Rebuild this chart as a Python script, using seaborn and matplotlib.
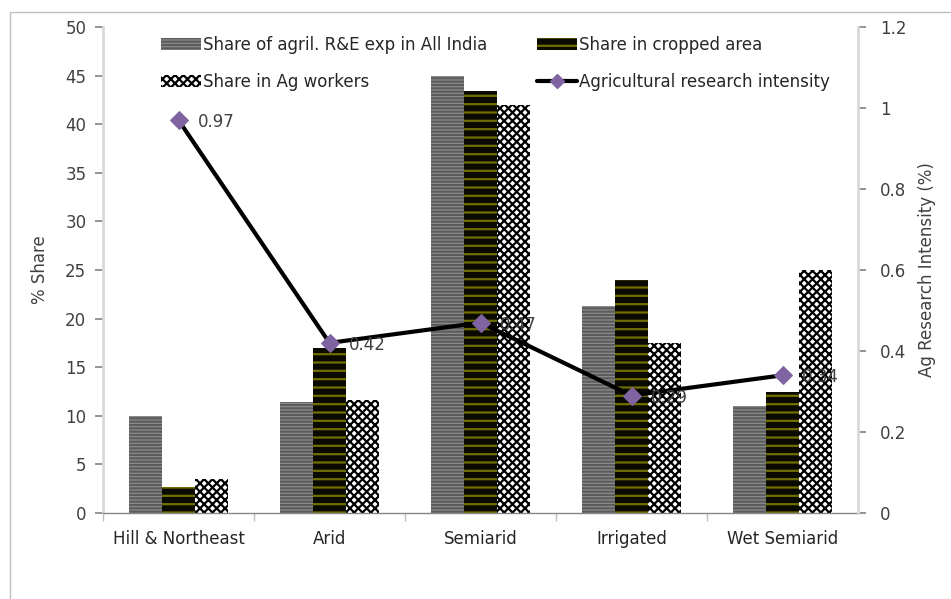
import numpy as np
import pandas as pd
import seaborn as sns
import matplotlib.pyplot as plt
from matplotlib.patches import Rectangle
from matplotlib.lines import Line2D
from matplotlib.ticker import FuncFormatter, MultipleLocator

regions = ['Hill & Northeast', 'Arid', 'Semiarid', 'Irrigated', 'Wet Semiarid']
share_exp = [10.0, 11.4, 45.0, 21.3, 11.0]
share_area = [2.7, 17.0, 43.4, 24.0, 12.4]
share_workers = [3.5, 11.6, 42.0, 17.5, 25.0]
intensity = [0.97, 0.42, 0.47, 0.29, 0.34]

series_names = ['Share of agril. R&E exp in All India', 'Share in cropped area', 'Share in Ag workers']
line_name = 'Agricultural research intensity'

df = pd.DataFrame({'Region': regions,
                   series_names[0]: share_exp,
                   series_names[1]: share_area,
                   series_names[2]: share_workers})
long = df.melt(id_vars='Region', var_name='Series', value_name='Share')

sns.set_theme(style='white')
plt.rcParams['font.family'] = ['DejaVu Sans']
plt.rcParams['hatch.linewidth'] = 1.6
text_col = '#404040'

fig = plt.figure(figsize=(9.51, 5.99), dpi=100)
ax = fig.add_axes([103 / 951, 1 - 513 / 599, 755 / 951, 486 / 599])

sns.barplot(data=long, x='Region', y='Share', hue='Series', order=regions,
            hue_order=series_names, width=0.66, ax=ax, legend=False)

styles = [
    dict(face='#8f8f8f', edge='#5c5c5c', hatch='-----'),
    dict(face='#0a0a00', edge='#6f6f00', hatch='- - '),
    dict(face='white', edge='black', hatch='xxxx'),
]
for cont, st in zip(ax.containers, styles):
    for bar in cont:
        bar.set_facecolor(st['face'])
        bar.set_edgecolor(st['edge'])
        bar.set_hatch(st['hatch'])
        bar.set_linewidth(0)

ax.set_xlim(-0.5, len(regions) - 0.5)
ax.set_ylim(0, 50)
ax.yaxis.set_major_locator(MultipleLocator(5))
ax.set_xlabel('')
ax.set_ylabel('% Share', fontsize=12, color=text_col, labelpad=12)
ax.tick_params(axis='y', left=True, length=6, color='#868686', labelsize=12,
               labelcolor=text_col, pad=6)
ax.tick_params(axis='x', length=0, labelsize=12, labelcolor='#262626', pad=12)
ax.set_xticks(np.arange(len(regions)) - 0.5, minor=True)
ax.tick_params(axis='x', which='minor', bottom=True, length=6, color='#bfbfbf')
for side in ['top', 'right']:
    ax.spines[side].set_visible(False)
ax.spines['left'].set_color('#d9d9d9')
ax.spines['left'].set_linewidth(2)
ax.spines['bottom'].set_color('#868686')
ax.spines['bottom'].set_linewidth(1)

ax2 = ax.twinx()
sns.lineplot(x=np.arange(len(regions)), y=intensity, ax=ax2, color='black',
             linewidth=3, marker='D', markersize=9, markerfacecolor='#8064a2',
             markeredgecolor='#8064a2', legend=False)
ax2.set_ylim(0, 1.2)
ax2.yaxis.set_major_locator(MultipleLocator(0.2))
ax2.yaxis.set_major_formatter(FuncFormatter(lambda v, p: f'{v:g}'))
ax2.set_ylabel('Ag Research Intensity (%)', fontsize=12, color=text_col, labelpad=8)
ax2.tick_params(axis='y', right=True, length=6, color='#868686', labelsize=12,
                labelcolor=text_col, pad=10)
for side in ['top', 'left', 'bottom']:
    ax2.spines[side].set_visible(False)
ax2.spines['right'].set_color('#d9d9d9')
ax2.spines['right'].set_linewidth(2)

for i, v in enumerate(intensity):
    ax2.annotate(f'{v:g}', (i, v), xytext=(14, -1.5), textcoords='offset points',
                 ha='left', va='center', fontsize=12, color=text_col)

handles = list(ax.containers[:3])
line_handle = Line2D([], [], color='black', linewidth=3, marker='D', markersize=7,
                     markerfacecolor='#8064a2', markeredgecolor='#8064a2')
order = [handles[0], handles[2], handles[1], line_handle]
labels = [series_names[0], series_names[2], series_names[1], line_name]
ax2.legend(order, labels, ncol=2, loc='upper center', bbox_to_anchor=(0.52, 1.013),
           frameon=False, fontsize=12, labelspacing=1.15, columnspacing=3.0,
           handlelength=2.4, handletextpad=0.1, labelcolor='#262626')

fig.patches.append(Rectangle((10 / 951, -0.1), 1.1, 1 - 12 / 599 + 0.1,
                             transform=fig.transFigure, fill=False,
                             edgecolor='#bfbfbf', linewidth=1))

fig.savefig('out.png', dpi=100)
